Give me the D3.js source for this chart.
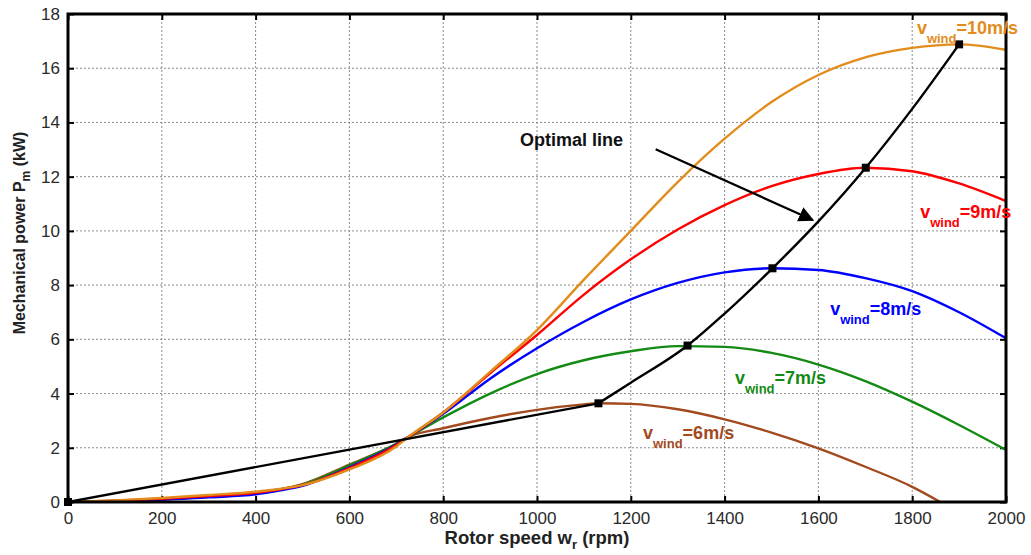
<!DOCTYPE html>
<html><head><meta charset="utf-8">
<script src="https://cdn.jsdelivr.net/npm/d3@7"></script>
<style>
html,body{margin:0;padding:0;background:#fff;}
svg{display:block;font-family:"Liberation Sans",Arial,Helvetica,sans-serif;}
</style></head>
<body><svg id="chart" width="1031" height="555"></svg>
<script>
// ---- data ----
const speedRpm = [0,100,200,300,400,450,500,600,700,725,800,900,1000,1100,1200,1300,1400,1500,1600,1700,1800,1900,2000];
const power10 = [0,0.06,0.15,0.26,0.38,0.48,0.62,1.2,2.05,2.39,3.3,4.8,6.34,8.2,10.0,11.8,13.4,14.75,15.75,16.4,16.75,16.88,16.68];
const power9  = [0,0.05,0.12,0.22,0.34,0.46,0.62,1.25,2.1,2.39,3.3,4.75,6.16,7.65,8.95,10.05,10.95,11.65,12.1,12.33,12.2,11.75,11.1];
const power8  = [0,0.03,0.08,0.17,0.28,0.42,0.6,1.28,2.12,2.39,3.25,4.55,5.67,6.65,7.47,8.08,8.47,8.62,8.56,8.26,7.78,7.0,6.04];
const power7  = [0,0.04,0.1,0.2,0.32,0.45,0.64,1.35,2.15,2.39,3.12,4.0,4.72,5.23,5.56,5.75,5.72,5.5,5.07,4.46,3.7,2.84,1.92];
const speedRpm6 = [0,100,200,300,400,450,500,600,700,725,800,900,1000,1100,1131,1200,1300,1400,1500,1600,1700,1800,1860];
const power6  = [0,0.04,0.1,0.2,0.33,0.46,0.66,1.38,2.15,2.39,2.72,3.1,3.4,3.6,3.64,3.62,3.42,3.05,2.56,1.98,1.30,0.56,0];
const optimalLowRpm = [0,1131];
const optimalLowKw  = [0,3.64];
const optimalRpm = [1131,1200,1321,1400,1502,1600,1701,1800,1900];
const optimalKw  = [3.64,4.4,5.77,6.95,8.62,10.35,12.33,14.5,16.88];
const markerRpm = [0,1131,1321,1502,1701,1900];
const markerKw  = [0,3.64,5.77,8.62,12.33,16.88];
const xTicks = [0,200,400,600,800,1000,1200,1400,1600,1800,2000];
const yTicks = [0,2,4,6,8,10,12,14,16,18];
const windLabels = ["10m/s","9m/s","8m/s","7m/s","6m/s"];
const labelRpm = [1810,1817,1625,1422,1226];
const labelKw  = [17.26,10.48,6.9,4.35,2.32];
const colors = ["#E28C1C","#FF0000","#0000FF","#138A13","#A24A1E"];

// ---- layout ----
const svg = d3.select("#chart");
const L = 68, R = 1006, T = 14, B = 502;
const x = d3.scaleLinear().domain([0,2000]).range([L,R]);
const y = d3.scaleLinear().domain([0,18]).range([B,T]);

// grid
const grid = svg.append("g").attr("stroke","#8a8a8a").attr("stroke-width",1).attr("stroke-dasharray","2,2");
xTicks.slice(1,-1).forEach(t=>grid.append("line").attr("x1",x(t)).attr("x2",x(t)).attr("y1",T).attr("y2",B));
yTicks.slice(1,-1).forEach(t=>grid.append("line").attr("x1",L).attr("x2",R).attr("y1",y(t)).attr("y2",y(t)));

// axes (ticks inward on all four sides)
function styleAxis(g){
  g.select(".domain").remove();
  g.selectAll(".tick line").attr("stroke","#000").attr("stroke-width",2);
  g.selectAll(".tick text").attr("fill","#2a2a2a").style("font-size","17px").style("font-family","'Liberation Sans',Arial,sans-serif");
}
svg.append("g").attr("transform",`translate(0,${B})`)
  .call(d3.axisBottom(x).tickValues(xTicks).tickSizeInner(-6).tickSizeOuter(0).tickPadding(10).tickFormat(d3.format("d")))
  .call(styleAxis);
svg.append("g").attr("transform",`translate(0,${T})`)
  .call(d3.axisTop(x).tickValues(xTicks).tickSizeInner(-6).tickSizeOuter(0).tickFormat(""))
  .call(styleAxis);
svg.append("g").attr("transform",`translate(${L},0)`)
  .call(d3.axisLeft(y).tickValues(yTicks).tickSizeInner(-6).tickSizeOuter(0).tickPadding(8).tickFormat(d3.format("d")))
  .call(styleAxis);
svg.append("g").attr("transform",`translate(${R},0)`)
  .call(d3.axisRight(y).tickValues(yTicks).tickSizeInner(-6).tickSizeOuter(0).tickFormat(""))
  .call(styleAxis);

// clip
svg.append("clipPath").attr("id","plotclip").append("rect").attr("x",L).attr("y",T).attr("width",R-L).attr("height",B-T);

// curves
const series = [
  {xs:speedRpm, ys:power10},
  {xs:speedRpm, ys:power9},
  {xs:speedRpm, ys:power8},
  {xs:speedRpm, ys:power7},
  {xs:speedRpm6, ys:power6}
];
const curve = d3.line().x(d=>x(d[0])).y(d=>y(d[1])).curve(d3.curveMonotoneX);
const cg = svg.append("g").attr("clip-path","url(#plotclip)");
series.slice().reverse().forEach((s,i)=>{
  const idx = series.length-1-i;
  cg.append("path").attr("d",curve(s.xs.map((v,j)=>[v,s.ys[j]])))
    .attr("fill","none").attr("stroke",colors[idx]).attr("stroke-width",2.4);
});

// optimal line
const lin = d3.line().x(d=>x(d[0])).y(d=>y(d[1]));
cg.append("path").attr("d",lin(optimalLowRpm.map((v,j)=>[v,optimalLowKw[j]])))
  .attr("fill","none").attr("stroke","#000").attr("stroke-width",2.4);
cg.append("path").attr("d",curve(optimalRpm.map((v,j)=>[v,optimalKw[j]])))
  .attr("fill","none").attr("stroke","#000").attr("stroke-width",2.4);
svg.append("g").selectAll("rect").data(markerRpm).join("rect")
  .attr("x",(d)=>x(d)-4).attr("y",(d,i)=>y(markerKw[i])-4).attr("width",8).attr("height",8).attr("fill","#000");

// frame
svg.append("rect").attr("x",L).attr("y",T).attr("width",R-L).attr("height",B-T)
  .attr("fill","none").attr("stroke","#000").attr("stroke-width",3);

// wind speed labels
windLabels.forEach((lab,i)=>{
  const t = svg.append("text").attr("x",x(labelRpm[i])).attr("y",y(labelKw[i]))
    .attr("fill",colors[i]).style("font-weight","bold").style("font-size","18px");
  t.append("tspan").text("v");
  t.append("tspan").attr("dy",9).style("font-size","13px").text("wind");
  t.append("tspan").attr("dy",-9).text("="+lab);
});

// annotation
const annStart = [1253,13.01], annEnd = [1588,10.4];
svg.append("text").attr("x",x(964)).attr("y",y(13.12)).text("Optimal line")
  .style("font-weight","bold").style("font-size","18px").attr("fill","#111");
svg.append("defs").append("marker").attr("id","arr").attr("viewBox","0 0 10 10")
  .attr("refX",9).attr("refY",5).attr("markerWidth",7).attr("markerHeight",7).attr("orient","auto")
  .append("path").attr("d","M0,0 L10,5 L0,10 z").attr("fill","#000");
svg.append("line").attr("x1",x(annStart[0])).attr("y1",y(annStart[1])).attr("x2",x(annEnd[0])).attr("y2",y(annEnd[1]))
  .attr("stroke","#000").attr("stroke-width",2.2).attr("marker-end","url(#arr)");

// axis titles
const xt = svg.append("text").attr("x",x(1000)).attr("y",544).attr("text-anchor","middle")
  .style("font-weight","bold").style("font-size","18.5px").attr("fill","#222");
xt.append("tspan").text("Rotor speed w");
xt.append("tspan").attr("dy",5).style("font-size","13px").text("r");
xt.append("tspan").attr("dy",-5).text(" (rpm)");
const yt = svg.append("text").attr("transform",`translate(25,233) rotate(-90)`).attr("text-anchor","middle")
  .style("font-weight","bold").style("font-size","16px").attr("fill","#222");
yt.append("tspan").text("Mechanical power P");
yt.append("tspan").attr("dy",5).style("font-size","12px").text("m");
yt.append("tspan").attr("dy",-5).text(" (kW)");
</script></body></html>
